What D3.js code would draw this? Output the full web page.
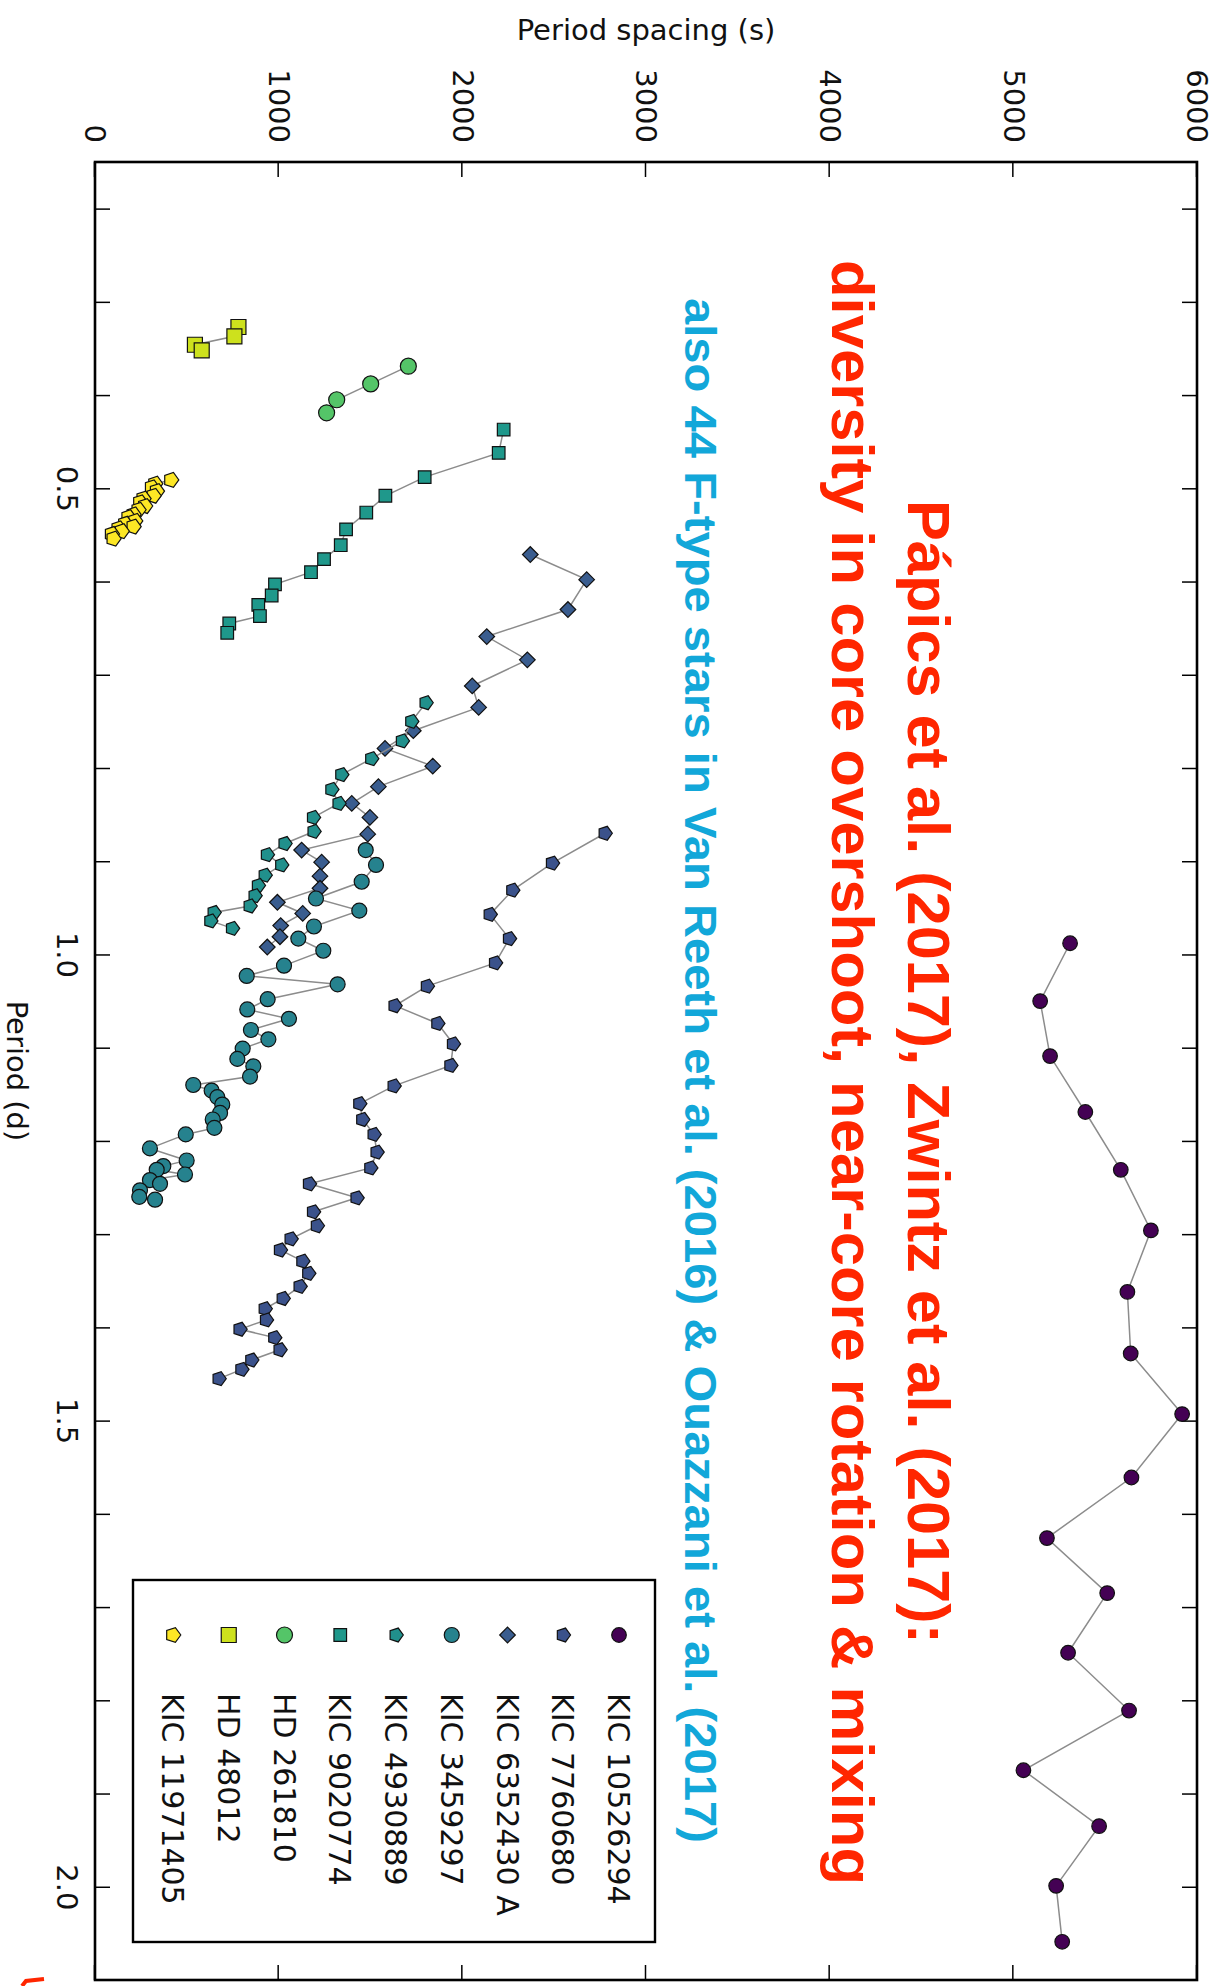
<!DOCTYPE html>
<html>
<head>
<meta charset="utf-8">
<script src="https://cdn.jsdelivr.net/npm/d3@7"></script>
<style>
  body { margin: 0; background: #fff; }
  svg { display: block; }
</style>
</head>
<body>
<svg id="chart" width="1222" height="1986"></svg>
<script>
// ---- Period spacing patterns (period in days, spacing in seconds) ----
const seriesNames = ["KIC 10526294", "KIC 7760680", "KIC 6352430 A", "KIC 3459297",
                     "KIC 4930889", "KIC 9020774", "HD 261810", "HD 48012", "KIC 11971405"];
const seriesColors = ["#440154", "#3b528b", "#3a5d8f", "#26828e", "#21908c",
                      "#1f988b", "#54c568", "#cde11d", "#fde725"];
const seriesShapes = ["circle", "pentagon", "diamond", "circle", "pentagon",
                      "square", "circle", "square", "pentagon"];

const kic10526294Period = [0.988, 1.050, 1.109, 1.169, 1.231, 1.296, 1.362, 1.428, 1.493,
                           1.561, 1.626, 1.685, 1.749, 1.811, 1.875, 1.935, 1.999, 2.059];
const kic10526294Spacing = [5309, 5146, 5200, 5392, 5585, 5749, 5621, 5639, 5919,
                            5643, 5183, 5511, 5298, 5630, 5055, 5467, 5233, 5266];

const kic7760680Period = [0.870, 0.902, 0.931, 0.957, 0.983, 1.009, 1.034, 1.055, 1.074,
                          1.096, 1.119, 1.141, 1.160, 1.177, 1.193, 1.212, 1.229, 1.246,
                          1.261, 1.276, 1.291, 1.305, 1.317, 1.329, 1.342, 1.356, 1.369,
                          1.380, 1.392, 1.402, 1.411, 1.424, 1.435, 1.445, 1.455];
const kic7760680Spacing = [2777, 2490, 2274, 2151, 2256, 2180, 1809, 1633, 1866,
                           1951, 1937, 1628, 1441, 1457, 1519, 1535, 1501, 1167,
                           1426, 1189, 1210, 1067, 1009, 1131, 1163, 1116, 1024,
                           926, 933, 789, 978, 1007, 853, 799, 675];

const kic6352430Period = [0.571, 0.598, 0.630, 0.659, 0.684, 0.712, 0.735, 0.760, 0.779,
                          0.798, 0.820, 0.838, 0.853, 0.871, 0.888, 0.901, 0.916, 0.929,
                          0.944, 0.956, 0.969, 0.981, 0.992];
const kic6352430Spacing = [2370, 2677, 2575, 2133, 2354, 2054, 2089, 1733, 1579,
                           1839, 1543, 1398, 1497, 1485, 1125, 1234, 1225, 1225,
                           993, 1131, 1011, 1007, 938];

const kic3459297Period = [0.888, 0.904, 0.922, 0.940, 0.953, 0.970, 0.983, 0.996, 1.012,
                          1.023, 1.032, 1.048, 1.059, 1.069, 1.081, 1.091, 1.101, 1.112,
                          1.120, 1.131, 1.140, 1.146, 1.153, 1.161, 1.170, 1.177, 1.186,
                          1.193, 1.208, 1.221, 1.227, 1.231, 1.236, 1.242, 1.246, 1.253,
                          1.260, 1.263];
const kic3459297Spacing = [1474, 1530, 1452, 1203, 1439, 1192, 1107, 1243, 1029,
                           826, 1321, 940, 829, 1056, 849, 944, 804, 775,
                           862, 844, 535, 635, 666, 693, 681, 641, 650,
                           494, 299, 499, 372, 336, 490, 299, 354, 245,
                           241, 327];

const kic4930889Period = [0.730, 0.750, 0.771, 0.790, 0.807, 0.823, 0.838, 0.853, 0.868,
                          0.881, 0.893, 0.904, 0.915, 0.926, 0.937, 0.948, 0.955, 0.964,
                          0.972];
const kic4930889Spacing = [1802, 1724, 1673, 1506, 1343, 1289, 1328, 1189, 1192,
                           1034, 938, 1016, 926, 889, 871, 844, 648, 630,
                           748];

const kic9020774Period = [0.437, 0.462, 0.488, 0.508, 0.526, 0.544, 0.561, 0.576, 0.590,
                          0.603, 0.615, 0.625, 0.637, 0.645, 0.655];
const kic9020774Spacing = [2225, 2198, 1795, 1581, 1477, 1367, 1338, 1247, 1176,
                           980, 962, 889, 898, 731, 720];

const hd261810Period = [0.369, 0.388, 0.405, 0.419];
const hd261810Spacing = [1706, 1501, 1316, 1261];

const hd48012Period = [0.327, 0.337, 0.346, 0.352];
const hd48012Spacing = [781, 759, 544, 581];

const kic11971405Period = [0.491, 0.495, 0.499, 0.503, 0.508, 0.511, 0.515, 0.519, 0.523,
                           0.528, 0.531, 0.535, 0.538, 0.541, 0.543, 0.546, 0.549, 0.554];
const kic11971405Spacing = [414, 327, 309, 336, 318, 263, 245, 272, 236,
                            209, 181, 218, 163, 209, 127, 145, 91, 100];

const periodTicks = [0.2, 0.3, 0.4, 0.5, 0.6, 0.7, 0.8, 0.9, 1.0, 1.1, 1.2, 1.3, 1.4,
                     1.5, 1.6, 1.7, 1.8, 1.9, 2.0];
const periodLabels = [0.5, 1.0, 1.5, 2.0];
const spacingTicks = [0, 1000, 2000, 3000, 4000, 5000, 6000];

const titleLines = [
  "Pápics et al. (2017), Zwintz et al. (2017):",
  "diversity in core overshoot, near-core rotation & mixing"
];
const subtitleLine = "also 44 F-type stars in Van Reeth et al. (2016) & Ouazzani et al. (2017)";

// ---- assemble series ----
const periodArrays = [kic10526294Period, kic7760680Period, kic6352430Period, kic3459297Period,
                      kic4930889Period, kic9020774Period, hd261810Period, hd48012Period,
                      kic11971405Period];
const spacingArrays = [kic10526294Spacing, kic7760680Spacing, kic6352430Spacing, kic3459297Spacing,
                       kic4930889Spacing, kic9020774Spacing, hd261810Spacing, hd48012Spacing,
                       kic11971405Spacing];
const markerSize = [7.3, 7.3, 7.8, 7.5, 7.3, 6.3, 8, 7.5, 7.8];

const series = seriesNames.map((name, i) => ({
  name, color: seriesColors[i], shape: seriesShapes[i], size: markerSize[i],
  points: periodArrays[i].map((p, j) => ({ p, s: spacingArrays[i][j] }))
}));

// ---- layout: the plot is drawn in its own frame, then turned a quarter clockwise ----
const frame = { left: 95, right: 1197, top: 162, bottom: 1980 };
const plotW = frame.bottom - frame.top;   // along the period axis
const plotH = frame.right - frame.left;   // along the spacing axis

const svg = d3.select("#chart");
svg.append("rect").attr("width", 1222).attr("height", 1986).attr("fill", "#fff");

const g = svg.append("g")
  .attr("transform", `translate(${frame.right},${frame.top}) rotate(90)`);

const x = d3.scaleLinear().domain([0.15, 2.1]).range([0, plotW]);
const y = d3.scaleLinear().domain([0, 6000]).range([plotH, 0]);

const tickFont = "'DejaVu Sans', sans-serif";

function styleAxis(sel, showText) {
  sel.select(".domain").remove();
  sel.selectAll(".tick line").attr("stroke", "#000").attr("stroke-width", 1.5);
  sel.selectAll(".tick text")
    .attr("fill", "#111")
    .style("font-family", tickFont)
    .style("font-size", "29px")
    .style("display", showText ? null : "none");
}

// period axis (bottom of the plot frame, i.e. the left edge of the page)
g.append("g").attr("transform", `translate(0,${plotH})`)
  .call(d3.axisBottom(x).tickValues(periodTicks).tickSizeInner(-15).tickSizeOuter(0)
        .tickPadding(17)
        .tickFormat(d => periodLabels.some(v => Math.abs(v - d) < 1e-9) ? d3.format(".1f")(d) : ""))
  .call(s => styleAxis(s, true));

g.append("g")
  .call(d3.axisTop(x).tickValues(periodTicks).tickSizeInner(-15).tickSizeOuter(0))
  .call(s => styleAxis(s, false));

// spacing axis
g.append("g")
  .call(d3.axisLeft(y).tickValues(spacingTicks).tickSizeInner(-15).tickSizeOuter(0)
        .tickPadding(19).tickFormat(d3.format("d")))
  .call(s => styleAxis(s, true));

g.append("g").attr("transform", `translate(${plotW},0)`)
  .call(d3.axisRight(y).tickValues(spacingTicks).tickSizeInner(-15).tickSizeOuter(0))
  .call(s => styleAxis(s, false));

// x-axis title
g.append("text")
  .attr("x", plotW / 2).attr("y", plotH + 88)
  .attr("text-anchor", "middle")
  .style("font-family", tickFont).style("font-size", "29px").attr("fill", "#111")
  .text("Period (d)");

// ---- marker shapes ----
function markerPath(shape, r) {
  if (shape === "circle") {
    const p = d3.path();
    p.moveTo(r, 0);
    p.arc(0, 0, r, 0, 2 * Math.PI);
    p.closePath();
    return p.toString();
  }
  if (shape === "square") {
    return `M${-r},${-r}H${r}V${r}H${-r}Z`;
  }
  if (shape === "diamond") {
    return `M0,${-r}L${r},0L0,${r}L${-r},0Z`;
  }
  if (shape === "pentagon") {
    const pts = d3.range(5).map(k => {
      const a = -Math.PI / 2 + k * 2 * Math.PI / 5;
      return [r * Math.cos(a), r * Math.sin(a)];
    });
    return "M" + pts.map(p => p.join(",")).join("L") + "Z";
  }
  return "";
}

const line = d3.line().x(d => x(d.p)).y(d => y(d.s));

const plotArea = g.append("g");
series.forEach(sr => {
  const sg = plotArea.append("g").attr("class", "series");
  sg.append("path")
    .attr("d", line(sr.points))
    .attr("fill", "none")
    .attr("stroke", "#8c8c8c")
    .attr("stroke-width", 1.5);
  sg.selectAll("path.marker")
    .data(sr.points)
    .join("path")
    .attr("class", "marker")
    .attr("transform", d => `translate(${x(d.p)},${y(d.s)})`)
    .attr("d", markerPath(sr.shape, sr.size))
    .attr("fill", sr.color)
    .attr("stroke", "#111")
    .attr("stroke-width", 1.2);
});

// frame
g.append("rect")
  .attr("x", 0).attr("y", 0).attr("width", plotW).attr("height", plotH)
  .attr("fill", "none").attr("stroke", "#000").attr("stroke-width", 2.6);

// ---- legend ----
const legend = g.append("g").attr("transform", "translate(1418,542)");
legend.append("rect")
  .attr("width", 362).attr("height", 522)
  .attr("fill", "#fff").attr("stroke", "#000").attr("stroke-width", 2.4);
const legendStep = 55.75;
series.forEach((sr, i) => {
  const row = legend.append("g").attr("transform", `translate(0,${36 + i * legendStep})`);
  row.append("path")
    .attr("transform", "translate(55,0)")
    .attr("d", markerPath(sr.shape, sr.size))
    .attr("fill", sr.color).attr("stroke", "#111").attr("stroke-width", 1.2);
  row.append("text")
    .attr("x", 113).attr("dy", "0.36em")
    .style("font-family", tickFont).style("font-size", "30px").attr("fill", "#111")
    .text(sr.name);
});

// ---- page-level texts ----
svg.append("text")
  .attr("x", (frame.left + frame.right) / 2).attr("y", 40)
  .attr("text-anchor", "middle")
  .style("font-family", tickFont).style("font-size", "29px").attr("fill", "#111")
  .text("Period spacing (s)");

const headFont = "'Liberation Sans Narrow', 'Arial Narrow', 'Liberation Sans', Arial, sans-serif";
const headSpecs = [
  { text: titleLines[0], x: 908, y: 500, len: 1144, size: 60, color: "#ff2600" },
  { text: titleLines[1], x: 832, y: 260, len: 1625, size: 60, color: "#ff2600" },
  { text: subtitleLine,  x: 685, y: 298, len: 1545, size: 44, color: "#12a7d9" }
];
headSpecs.forEach(h => {
  svg.append("text")
    .attr("transform", `translate(${h.x},${h.y}) rotate(90)`)
    .attr("textLength", h.len).attr("lengthAdjust", "spacingAndGlyphs")
    .style("font-family", headFont).style("font-weight", "bold")
    .style("font-size", h.size + "px").attr("fill", h.color)
    .text(h.text);
});

// red corner mark peeking in at the lower-left edge of the page
svg.append("path")
  .attr("d", "M22,1986 L26,1981 L44,1979")
  .attr("fill", "none")
  .attr("stroke", "#ff2600")
  .attr("stroke-width", 4);
</script>
</body>
</html>
